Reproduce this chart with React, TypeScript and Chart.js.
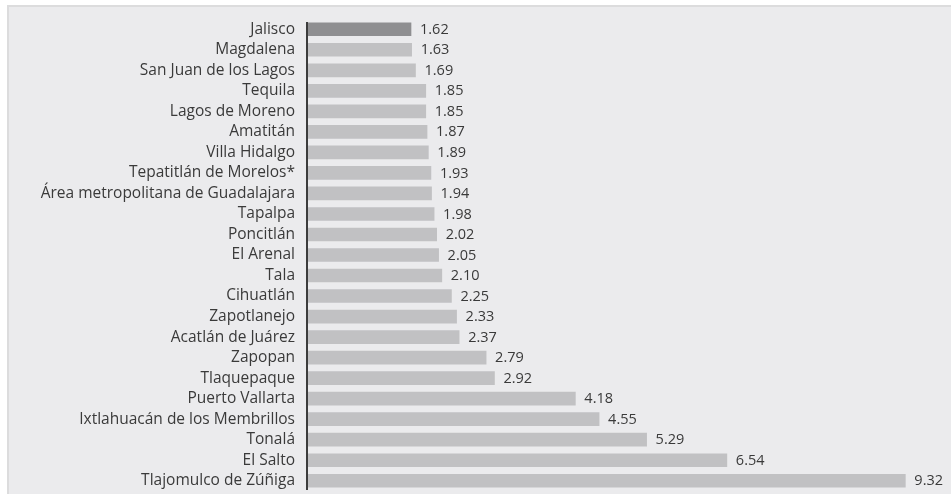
import React, { useEffect, useRef } from "react";
import { Chart, registerables } from "chart.js";

Chart.register(...registerables);

const categories = [
  "Jalisco",
  "Magdalena",
  "San Juan de los Lagos",
  "Tequila",
  "Lagos de Moreno",
  "Amatitán",
  "Villa Hidalgo",
  "Tepatitlán de Morelos*",
  "Área metropolitana de Guadalajara",
  "Tapalpa",
  "Poncitlán",
  "El Arenal",
  "Tala",
  "Cihuatlán",
  "Zapotlanejo",
  "Acatlán de Juárez",
  "Zapopan",
  "Tlaquepaque",
  "Puerto Vallarta",
  "Ixtlahuacán de los Membrillos",
  "Tonalá",
  "El Salto",
  "Tlajomulco de Zúñiga",
];

const values = [
  1.62, 1.63, 1.69, 1.85, 1.85, 1.87, 1.89, 1.93, 1.94, 1.98, 2.02, 2.05, 2.1,
  2.25, 2.33, 2.37, 2.79, 2.92, 4.18, 4.55, 5.29, 6.54, 9.32,
];

const valueLabels = values.map((v) => v.toFixed(2));

const FONT = "'Open Sans', sans-serif";
const TEXT = "#3a3a3a";

export default function App() {
  const ref = useRef<HTMLCanvasElement | null>(null);

  useEffect(() => {
    if (!ref.current) return;

    const axisLine = {
      id: "axisLine",
      afterDatasetsDraw(chart: any) {
        const { ctx, chartArea } = chart;
        ctx.save();
        ctx.fillStyle = "#3c3c3c";
        ctx.fillRect(chartArea.left - 1, chartArea.top + 3, 2, chartArea.bottom - chartArea.top - 4);
        ctx.restore();
      },
    };

    const valueText = {
      id: "valueText",
      afterDatasetsDraw(chart: any) {
        const { ctx } = chart;
        const meta = chart.getDatasetMeta(0);
        ctx.save();
        ctx.font = `14.5px ${FONT}`;
        ctx.fillStyle = TEXT;
        ctx.textAlign = "left";
        ctx.textBaseline = "middle";
        meta.data.forEach((bar: any, i: number) => {
          ctx.fillText(valueLabels[i], bar.x + 9, bar.y + 0.5);
        });
        ctx.restore();
      },
    };

    const chart = new Chart(ref.current, {
      type: "bar",
      data: {
        labels: categories,
        datasets: [
          {
            data: values,
            backgroundColor: values.map((_, i) => (i === 0 ? "#8f8f91" : "#c1c1c3")),
            barThickness: 13,
            borderWidth: 0,
          },
        ],
      },
      options: {
        indexAxis: "y",
        animation: false,
        responsive: false,
        maintainAspectRatio: false,
        layout: { padding: { left: 0, right: 2, top: 19, bottom: 3 } },
        plugins: {
          legend: { display: false },
          tooltip: { enabled: false },
        },
        scales: {
          x: {
            display: false,
            min: 0,
            max: 10,
          },
          y: {
            grid: { display: false, drawTicks: false },
            border: { display: false },
            ticks: {
              color: TEXT,
              font: { family: FONT, size: 15.5 },
              padding: 12,
              autoSkip: false,
            },
            afterFit(scale: any) {
              scale.width = 307;
              scale.paddingTop = 0;
              scale.paddingBottom = 0;
            },
          },
        },
      },
      plugins: [axisLine, valueText],
    });

    return () => chart.destroy();
  }, []);

  return (
    <div
      style={{
        position: "fixed",
        left: 0,
        top: 0,
        width: 951,
        height: 494,
        background: "#ffffff",
        overflow: "hidden",
      }}
    >
      <div
        style={{
          position: "absolute",
          left: 7,
          top: 5,
          right: 0,
          bottom: 0,
          background: "#ebebed",
          borderTop: "2px solid #dcdcdd",
          borderLeft: "2px solid #dcdcdd",
        }}
      />
      <canvas
        ref={ref}
        width={951}
        height={494}
        style={{ position: "absolute", left: 0, top: 0, width: 951, height: 494 }}
      />
    </div>
  );
}
